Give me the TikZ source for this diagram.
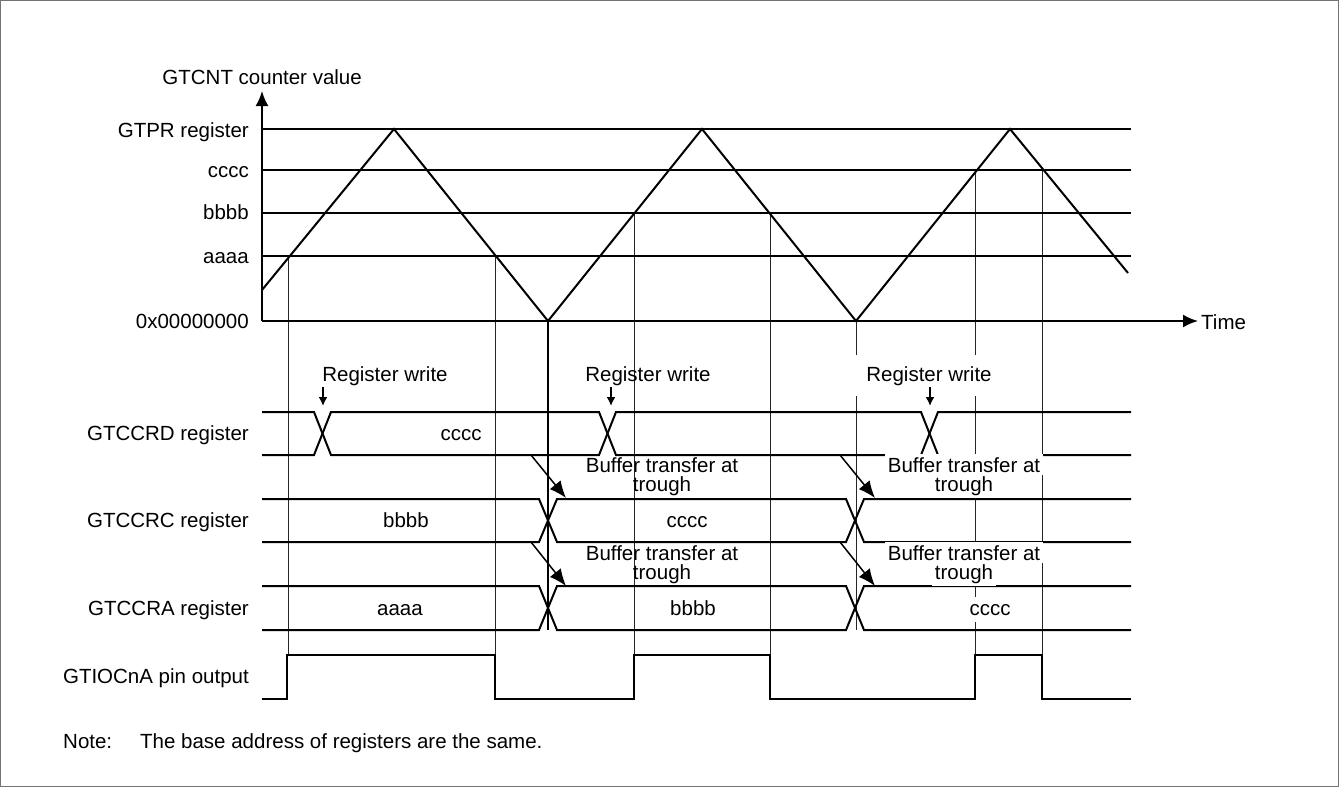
\documentclass[tikz,border=0pt]{standalone}
\usepackage{fontspec}
\setmainfont{Liberation Sans}
\usetikzlibrary{arrows.meta}
\begin{document}
\begin{tikzpicture}[x=1pt,y=-1pt,
  thk/.style={line width=2pt},
  thn/.style={line width=1pt,black!85},
  txt/.style={font=\fontsize{20.5}{23}\selectfont, inner sep=0pt},
  wtxt/.style={txt, fill=white, inner xsep=3pt, inner ysep=3pt},
  axisarrow/.style={thk, -{Latex[length=15pt,width=13pt]}},
  bufarrow/.style={line width=1.5pt, -{Latex[length=17pt,width=14pt]}},
  wrarrow/.style={line width=2pt, -{Latex[length=9pt,width=9pt]}}]
\useasboundingbox (0,0) rectangle (1339,787);
\draw[black!55,line width=1pt] (0.5,0.5) rectangle (1338.5,786.5);

% ---- key coordinates
\coordinate (O) at (262,321);
\coordinate (Ytip) at (262,91);
\coordinate (Xtip) at (1198,321);
\coordinate (gtprL) at (262,129); \coordinate (gtprR) at (1131,129);
\coordinate (ccL) at (262,170);   \coordinate (ccR) at (1131,170);
\coordinate (bbL) at (262,213);   \coordinate (bbR) at (1131,213);
\coordinate (aaL) at (262,256);   \coordinate (aaR) at (1131,256);

% ---- thin vertical guide lines
\coordinate (v1t) at (288,256);  \coordinate (v1b) at (288,655);
\coordinate (v2t) at (495,256);  \coordinate (v2b) at (495,655);
\coordinate (v3t) at (634,213);  \coordinate (v3b) at (634,655);
\coordinate (v4t) at (770,213);  \coordinate (v4b) at (770,655);
\coordinate (v5t) at (856,321);  \coordinate (v5b) at (856,630);
\coordinate (v6t) at (975,170);  \coordinate (v6b) at (975,655);
\coordinate (v7t) at (1042,170); \coordinate (v7b) at (1042,655);
\coordinate (trt) at (548,321);  \coordinate (trb) at (548,630);
\foreach \a/\b in {v1t/v1b,v2t/v2b,v3t/v3b,v4t/v4b,v5t/v5b,v6t/v6b,v7t/v7b}
  \draw[thn] (\a) -- (\b);
\draw[line width=2.5pt] (trt) -- (trb);

% ---- levels and axes
\draw[thk] (gtprL) -- (gtprR);
\draw[thk] (ccL) -- (ccR);
\draw[thk] (bbL) -- (bbR);
\draw[thk] (aaL) -- (aaR);
\draw[axisarrow] (O) -- (Ytip);
\draw[axisarrow] (O) -- (Xtip);

% ---- counter waveform
\draw[thk] (262,290) -- (394,129) -- (548,321) -- (702,129) -- (856,321) -- (1010,129) -- (1128,273);

% ---- axis labels
\node[txt,anchor=base east] (ylab) at (362,84) {GTCNT counter value};
\node[txt,anchor=base west] (tlab) at (1201,329) {Time};
\node[txt,anchor=base east] (lgtpr) at (249,137) {GTPR register};
\node[txt,anchor=base east] (lcc) at (249,177) {cccc};
\node[txt,anchor=base east] (lbb) at (249,219) {bbbb};
\node[txt,anchor=base east] (laa) at (249,263) {aaaa};
\node[txt,anchor=base east] (lzero) at (249,328) {0x00000000};

% ---- register rows
\node[txt,anchor=base east] (rD) at (249,440) {GTCCRD register};
\node[txt,anchor=base east] (rC) at (249,527) {GTCCRC register};
\node[txt,anchor=base east] (rA) at (249,615) {GTCCRA register};
\node[txt,anchor=base east] (rP) at (249,683) {GTIOCnA pin output};

% GTCCRD bus
\draw[thk] (262,412) -- (314,412) -- (331,455) -- (599,455) -- (616,412) -- (921,412) -- (938,455) -- (1131,455);
\draw[thk] (262,455) -- (314,455) -- (331,412) -- (599,412) -- (616,455) -- (921,455) -- (938,412) -- (1131,412);
% GTCCRC bus
\draw[thk] (262,499) -- (539,499) -- (557,542) -- (846,542) -- (864,499) -- (1131,499);
\draw[thk] (262,542) -- (539,542) -- (557,499) -- (846,499) -- (864,542) -- (1131,542);
% GTCCRA bus
\draw[thk] (262,586) -- (539,586) -- (557,630) -- (846,630) -- (864,586) -- (1131,586);
\draw[thk] (262,630) -- (539,630) -- (557,586) -- (846,586) -- (864,630) -- (1131,630);
% pin output
\draw[thk] (262,699) -- (287,699) -- (287,655) -- (495,655) -- (495,699) -- (634,699) -- (634,655)
  -- (770,655) -- (770,699) -- (975,699) -- (975,655) -- (1042,655) -- (1042,699) -- (1131,699);

% bus values
\node[txt,anchor=base] (dc) at (461,440) {cccc};
\node[txt,anchor=base] (cb) at (406,527) {bbbb};
\node[txt,anchor=base] (cc) at (687,527) {cccc};
\node[txt,anchor=base] (aa) at (400,615) {aaaa};
\node[txt,anchor=base] (ab) at (693,615) {bbbb};
\node[wtxt,anchor=base,inner ysep=7pt] (ac) at (990,615) {cccc};

% register write labels and arrows
\node[txt,anchor=base] (rw1) at (385,381) {Register write};
\node[txt,anchor=base] (rw2) at (648,381) {Register write};
\node[txt,anchor=base,fill=white,inner xsep=12pt,inner ysep=11pt] (rw3) at (929,381) {Register write};
\coordinate (w1a) at (323,387); \coordinate (w1b) at (323,406);
\coordinate (w2a) at (611,387); \coordinate (w2b) at (611,406);
\coordinate (w3a) at (930,387); \coordinate (w3b) at (930,406);
\draw[wrarrow] (w1a) -- (w1b);
\draw[wrarrow] (w2a) -- (w2b);
\draw[wrarrow] (w3a) -- (w3b);

% buffer transfer labels
\node[txt,anchor=base] (b1a) at (662,472) {Buffer transfer at};
\node[txt,anchor=base] (b1b) at (662,491) {trough};
\node[txt,anchor=base] (b2a) at (662,560) {Buffer transfer at};
\node[txt,anchor=base] (b2b) at (662,579) {trough};
\node[wtxt,anchor=base] (b3a) at (964,472) {Buffer transfer at};
\node[wtxt,anchor=base] (b3b) at (964,491) {trough};
\node[wtxt,anchor=base] (b4a) at (964,560) {Buffer transfer at};
\node[wtxt,anchor=base] (b4b) at (964,579) {trough};

% buffer transfer arrows
\coordinate (t1a) at (531,455); \coordinate (t1b) at (566,498);
\coordinate (t2a) at (531,542); \coordinate (t2b) at (566,586);
\coordinate (t3a) at (840,455); \coordinate (t3b) at (875,498);
\coordinate (t4a) at (840,542); \coordinate (t4b) at (875,586);
\draw[bufarrow] (t1a) -- (t1b);
\draw[bufarrow] (t2a) -- (t2b);
\draw[bufarrow] (t3a) -- (t3b);
\draw[bufarrow] (t4a) -- (t4b);

% note
\node[txt,anchor=base west] (note) at (63,748) {Note:};
\node[txt,anchor=base west] (notetext) at (140,748) {The base address of registers are the same.};
\end{tikzpicture}
\end{document}
